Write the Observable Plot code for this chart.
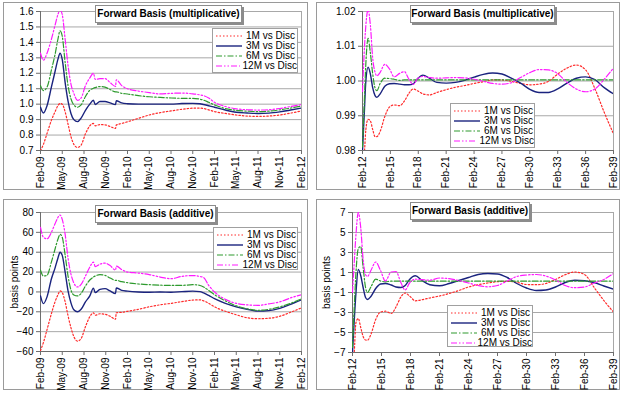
<!DOCTYPE html>
<html><head><meta charset="utf-8">
<script src="https://cdn.jsdelivr.net/npm/d3@7"></script>
<script src="https://cdn.jsdelivr.net/npm/@observablehq/plot@0.6"></script>
<style>
body{margin:0;background:#fff;font-family:"Liberation Sans",Arial,sans-serif;}
#wrap{position:relative;width:624px;height:394px;overflow:hidden;}
.panel{position:absolute;width:312px;height:197px;}
.frame{position:absolute;border:1px solid #9a9a9a;box-sizing:border-box;}
.title{position:absolute;background:#fff;border:1px solid #8c8c8c;box-shadow:2px 2px 0 #8c8c8c;font:bold 10px "Liberation Sans",Arial,sans-serif;color:#000;text-align:center;line-height:16px;box-sizing:border-box;white-space:nowrap;}
.legend{position:absolute;background:#fff;border:1px solid #a0a0a0;font:10px "Liberation Sans",Arial,sans-serif;color:#000;box-sizing:border-box;padding:2px 0 0 2px;}
.legend .row{height:10px;line-height:10px;white-space:nowrap;display:flex;align-items:center;}
.legend svg{margin-right:3px;}
svg.plot{position:absolute;left:0;top:0;}
</style></head>
<body><div id="wrap"></div>
<script>
// ---------- data ----------
const seriesNames = ["1M vs Disc", "3M vs Disc", "6M vs Disc", "12M vs Disc"];
const leftTickLabels = ["Feb-09","May-09","Aug-09","Nov-09","Feb-10","May-10","Aug-10","Nov-10","Feb-11","May-11","Aug-11","Nov-11","Feb-12"];
const rightTickLabels = ["Feb-12","Feb-15","Feb-18","Feb-21","Feb-24","Feb-27","Feb-30","Feb-33","Feb-36","Feb-39"];

// months after Feb-09
const leftMonths = [0,0.4,0.9,1.5,2.0,2.4,2.7,3.0,3.4,3.8,4.2,4.6,5.1,5.6,6.2,6.8,7.3,7.55,8.2,8.9,9.6,10.35,10.45,11.2,12,13.5,15,16.5,18,19.5,21,22,22.5,23.2,24,25.5,27,28.5,30,31.5,33,34.5,36];

const multL1M = [0.70,0.74,0.81,0.895,0.95,0.99,1.005,1.0,0.95,0.87,0.79,0.74,0.72,0.735,0.808,0.86,0.875,0.86,0.868,0.866,0.855,0.843,0.865,0.875,0.886,0.908,0.93,0.945,0.956,0.967,0.974,0.975,0.972,0.963,0.952,0.94,0.93,0.923,0.921,0.923,0.93,0.942,0.956];
const multL3M = [0.98,0.943,0.99,1.11,1.21,1.29,1.33,1.29,1.14,1.02,0.94,0.90,0.887,0.91,0.96,1.0,1.025,0.998,1.017,1.017,1.008,0.997,1.022,1.008,1.003,1.0,1.0,1.0,1.0,1.004,1.005,1.003,0.998,0.99,0.98,0.962,0.948,0.943,0.94,0.942,0.95,0.962,0.975];
const multL6M = [1.12,1.088,1.11,1.22,1.32,1.42,1.475,1.44,1.27,1.12,1.035,0.995,0.98,0.995,1.05,1.09,1.103,1.107,1.114,1.11,1.095,1.08,1.08,1.07,1.066,1.055,1.048,1.044,1.04,1.038,1.038,1.032,1.026,1.012,0.995,0.972,0.96,0.955,0.952,0.955,0.963,0.975,0.988];
const multL12M = [1.33,1.285,1.33,1.42,1.51,1.58,1.61,1.58,1.42,1.25,1.13,1.07,1.025,1.04,1.12,1.17,1.2,1.16,1.165,1.165,1.14,1.115,1.158,1.12,1.1,1.085,1.075,1.066,1.07,1.072,1.067,1.06,1.055,1.04,1.012,0.985,0.97,0.964,0.962,0.964,0.972,0.985,0.997];

const addL1M = [-59,-51,-38,-22,-10,-3,1,-0.7,-10,-24,-36,-45,-49.5,-47,-35,-25,-21,-23.5,-22,-22.5,-24.5,-27.5,-21,-20.5,-19.5,-17.5,-15,-13,-11.5,-9.8,-8.2,-8,-9,-11.5,-15,-19.5,-23,-26,-27,-26.5,-24.5,-20.5,-16];
const addL3M = [-4,-11.8,-5,13,24,34,40,36.8,20,1,-11,-18,-20,-17.5,-10,-4,3.8,-0.7,2.6,3.3,1,-1.7,4,1.6,0.8,0,-0.3,0,-0.3,0.3,0.8,0.3,-1,-3.5,-6.8,-11.5,-15,-17.5,-19.3,-18.8,-16.5,-12.5,-8];
const addL6M = [22,16,16.7,30,43,53,58,55,37,16,2,-3,-4,-1.5,6,12,15,16,17.4,16.7,14,11.7,11.7,10.3,9.3,8,7.3,6.8,6.6,6.6,7.3,6.5,5,1.5,-2.7,-9,-14,-17,-18.5,-17.5,-15,-11.5,-7];
const addL12M = [65,55,53.5,60,68.6,75,77.5,73,58,34,18,9,5,7.5,16,25,30,25.5,28,29,26.5,22,26,22.5,20,19,17.4,15,13.3,15.7,16.5,15.5,14.5,6.6,0,-7.5,-11.5,-13,-13.5,-12,-10,-6,-2.7];

// years after Feb-12
const rightYears = [0,0.18,0.36,0.6,0.85,1.1,1.35,1.55,1.9,2.4,2.9,3.4,4.0,4.5,5.0,5.45,5.9,6.5,7.2,8,9,10,11,12,13,14,15,16,17,18,19,20,21,22,23,24,25,26,27];

const multR1M = [0.972,0.978,0.986,0.989,0.9885,0.986,0.984,0.984,0.9855,0.9898,0.9925,0.9931,0.9929,0.9942,0.9965,0.9977,0.9972,0.9963,0.996,0.9967,0.9975,0.9982,0.9987,0.9993,0.9998,1.0003,1.0003,0.9999,0.9993,0.9989,0.9991,0.9999,1.002,1.0037,1.0046,1.0032,0.9978,0.991,0.9848];
const multR3M = [0.98,0.99,1.0,1.004,1.002,0.998,0.9958,0.9953,0.9963,0.9985,0.9992,0.9993,0.9991,0.9989,0.9989,0.9992,1.0006,1.0017,1.0008,0.9996,0.9994,0.9996,1.0002,1.0011,1.0019,1.0023,1.002,1.0008,0.9994,0.9976,0.9967,0.9967,0.9977,0.9994,1.0008,1.0012,1.0004,0.9981,0.9963];
const multR6M = [0.981,0.993,1.005,1.0123,1.008,1.002,0.998,0.9972,0.9993,1.0008,1.0007,1.0005,1.0002,1.0003,1.0003,1.0003,1.0003,1.0003,1.0003,1.0003,1.0003,1.0003,1.0003,1.0003,1.0003,1.0003,1.0003,1.0003,1.0003,1.0003,1.0003,1.0003,1.0003,1.0003,1.0003,1.0003,1.0003,1.0003,1.0003];
const multR12M = [0.997,1.008,1.016,1.0205,1.016,1.0065,1.0025,1.0015,1.0025,1.0048,1.0035,1.0012,1.0022,1.0027,1.0005,0.999,1.0006,1.0013,1.001,1.0008,1.0009,1.001,1.0009,1.0005,0.9999,0.9993,0.9991,0.9995,1.001,1.0024,1.0033,1.0032,1.0021,0.9996,0.9977,0.9969,0.9977,1.0005,1.0037];

const addR1M = [-9,-7,-4,-3.6,-4.5,-5.4,-5.75,-5.77,-5.2,-3.7,-2.95,-2.87,-3.1,-2.45,-1.45,-1.05,-1.35,-1.83,-1.72,-1.55,-1.35,-1.1,-0.8,-0.45,-0.22,-0.05,0.08,0.12,0.02,-0.2,-0.22,-0.1,0.3,0.78,1.05,0.8,-0.5,-1.8,-2.95];
const addR3M = [-7,-3.8,-1,1.3,0.7,-0.5,-1.5,-1.7,-1.4,-0.6,-0.15,-0.1,-0.25,-0.45,-0.5,-0.3,0.3,0.67,0.2,-0.22,-0.33,-0.1,0.2,0.5,0.8,0.9,0.85,0.5,-0.1,-0.55,-0.8,-0.75,-0.45,0.0,0.22,0.18,0.0,-0.35,-0.67];
const addR6M = [-6.5,-2.5,1.0,3.4,3.6,1.5,-0.5,-1.0,-0.45,0.33,0.15,0.07,0.13,0.13,0.13,0.13,0.13,0.13,0.13,0.13,0.13,0.13,0.13,0.13,0.13,0.13,0.13,0.13,0.13,0.13,0.13,0.13,0.13,0.13,0.13,0.13,0.13,0.13,0.13];
const addR12M = [-1,2,4.8,7,5.5,2.3,0.8,0.6,1.2,2.05,1.2,0.15,1.05,1.1,0,-0.75,-0.05,0.33,0.28,0.23,0.45,0.38,0.2,-0.05,-0.3,-0.43,-0.3,0.15,0.6,0.75,0.8,0.65,0.25,-0.3,-0.52,-0.45,-0.05,0.3,0.9];

const yTicksMultL = [0.7,0.8,0.9,1.0,1.1,1.2,1.3,1.4,1.5,1.6];
const yTicksMultR = [0.98,0.99,1.00,1.01,1.02];
const yTicksAddL = [-60,-40,-20,0,20,40,60,80];
const yTicksAddR = [-7,-5,-3,-1,1,3,5,7];

// ---------- styles ----------
const styles = [
  {stroke: "#ff2a2a", strokeWidth: 1.2, strokeDasharray: "1.5,2"},
  {stroke: "#1a237e", strokeWidth: 1.4},
  {stroke: "#2e9a2e", strokeWidth: 1.2, strokeDasharray: "6,2,1.5,2"},
  {stroke: "#ff1aff", strokeWidth: 1.2, strokeDasharray: "6,2,1.5,2,1.5,2"}
];

function makePanel(cfg) {
  const fmtX = d => cfg.xLabels[cfg.xTicks.indexOf(d)];
  const rows = (i) => cfg.xs.map((x, j) => ({x, y: cfg.series[i][j]}));
  const marks = [
    Plot.gridY(cfg.yTicks, {stroke: "#a8a8a8", strokeOpacity: 1, strokeWidth: 1}),
    Plot.frame({stroke: "#a8a8a8"}),
    Plot.frame({anchor: "left", stroke: "#6e6e6e"}),
    Plot.frame({anchor: "bottom", stroke: "#6e6e6e"}),
    Plot.axisY({ticks: cfg.yTicks, tickFormat: cfg.yFormat, tickSize: 4, tickPadding: 3,
      label: cfg.yLabel || null, labelAnchor: "center", labelArrow: "none", labelOffset: 30, stroke: "#6e6e6e"}),
    Plot.axisX({ticks: cfg.xTicks, tickFormat: fmtX, tickRotate: -90, tickSize: 4, tickPadding: 2, label: null, stroke: "#6e6e6e"})
  ];
  for (let i = 0; i < 4; i++) {
    marks.push(Plot.line(rows(i), {x: "x", y: "y", curve: "monotone-x", clip: true, ...styles[i]}));
  }
  const svg = Plot.plot({
    width: 312, height: 197,
    marginLeft: cfg.ml, marginRight: cfg.mr, marginTop: cfg.mt, marginBottom: cfg.mb,
    style: {fontFamily: '"Liberation Sans", Arial, sans-serif', fontSize: "10px", color: "#000", background: "transparent", overflow: "visible"},
    x: {domain: cfg.xDomain},
    y: {domain: cfg.yDomain},
    marks
  });
  svg.classList.add("plot");
  const panel = document.createElement("div");
  panel.className = "panel";
  panel.style.left = cfg.left + "px";
  panel.style.top = cfg.top + "px";
  const fr = document.createElement("div");
  fr.className = "frame";
  Object.assign(fr.style, cfg.frame);
  panel.appendChild(fr);
  panel.appendChild(svg);
  const t = document.createElement("div");
  t.className = "title";
  t.textContent = cfg.title;
  Object.assign(t.style, cfg.titleBox);
  panel.appendChild(t);
  const lg = document.createElement("div");
  lg.className = "legend";
  Object.assign(lg.style, cfg.legendBox);
  seriesNames.forEach((name, i) => {
    const r = document.createElement("div");
    r.className = "row";
    const s = styles[i];
    r.innerHTML = `<svg width="28" height="8"><line x1="1" y1="4" x2="27" y2="4" stroke="${s.stroke}" stroke-width="${s.strokeWidth}" ${s.strokeDasharray ? `stroke-dasharray="${s.strokeDasharray}"` : ""}/></svg><span>${name}</span>`;
    lg.appendChild(r);
  });
  panel.appendChild(lg);
  document.getElementById("wrap").appendChild(panel);
}

const leftTicks = leftTickLabels.map((_, i) => i * 3);
const rightTicks = rightTickLabels.map((_, i) => i * 3);

makePanel({left: 0, top: 0, xs: leftMonths, series: [multL1M, multL3M, multL6M, multL12M],
  xDomain: [0, 36], xTicks: leftTicks, xLabels: leftTickLabels,
  yDomain: [0.7, 1.6], yTicks: yTicksMultL, yFormat: d3.format(".1f"),
  ml: 40, mr: 11, mt: 11, mb: 47,
  frame: {left: "3px", top: "2px", width: "305px", height: "188px"},
  title: "Forward Basis (multiplicative)",
  titleBox: {left: "95px", top: "5px", width: "147px", height: "18px"},
  legendBox: {left: "212px", top: "28px", width: "86px", height: "45px"}});

makePanel({left: 312, top: 0, xs: rightYears, series: [multR1M, multR3M, multR6M, multR12M],
  xDomain: [0, 27], xTicks: rightTicks, xLabels: rightTickLabels,
  yDomain: [0.98, 1.02], yTicks: yTicksMultR, yFormat: d3.format(".2f"),
  ml: 50, mr: 11, mt: 11, mb: 47,
  frame: {left: "4px", top: "2px", width: "304px", height: "188px"},
  title: "Forward Basis (multiplicative)",
  titleBox: {left: "98px", top: "5px", width: "145px", height: "18px"},
  legendBox: {left: "138px", top: "103px", width: "85px", height: "45px"}});

makePanel({left: 0, top: 197, xs: leftMonths, series: [addL1M, addL3M, addL6M, addL12M],
  xDomain: [0, 36], xTicks: leftTicks, xLabels: leftTickLabels,
  yDomain: [-60, 80], yTicks: yTicksAddL, yFormat: d3.format("d"), yLabel: "basis points",
  ml: 40, mr: 11, mt: 15, mb: 43,
  frame: {left: "3px", top: "2px", width: "305px", height: "191px"},
  title: "Forward Basis (additive)",
  titleBox: {left: "95px", top: "8px", width: "121px", height: "18px"},
  legendBox: {left: "213px", top: "30px", width: "85px", height: "43px"}});

makePanel({left: 312, top: 197, xs: rightYears, series: [addR1M, addR3M, addR6M, addR12M],
  xDomain: [0, 27], xTicks: rightTicks, xLabels: rightTickLabels,
  yDomain: [-7, 7], yTicks: yTicksAddR, yFormat: d3.format("d"), yLabel: "basis points",
  ml: 40, mr: 11, mt: 15, mb: 42,
  frame: {left: "4px", top: "2px", width: "304px", height: "191px"},
  title: "Forward Basis (additive)",
  titleBox: {left: "98px", top: "5px", width: "120px", height: "18px"},
  legendBox: {left: "135px", top: "108px", width: "86px", height: "42px"}});
</script></body></html>
